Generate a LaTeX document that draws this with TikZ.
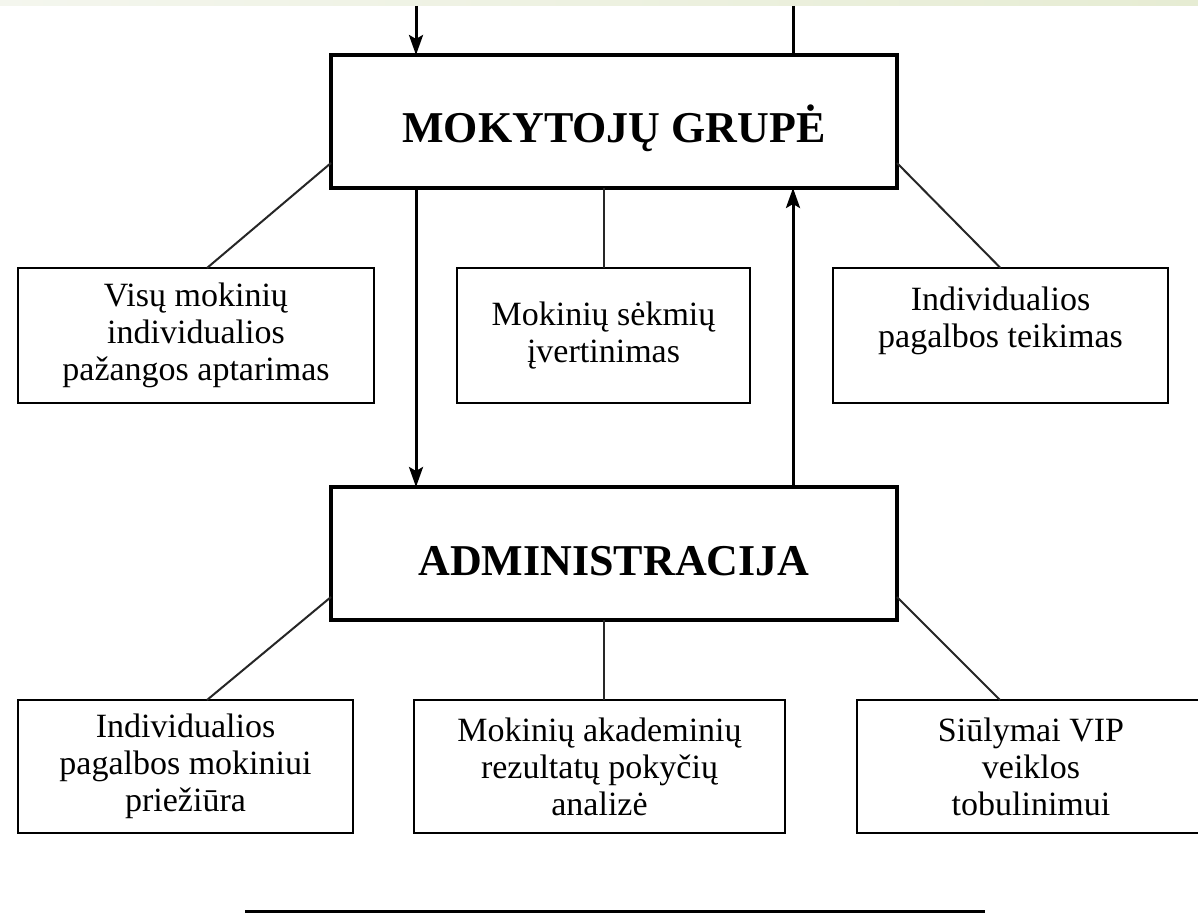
\documentclass[tikz,border=0pt]{standalone}
\usepackage{fontspec}
\setmainfont{Liberation Serif}
\usetikzlibrary{arrows.meta}
\definecolor{bandleft}{HTML}{F4F6EE}
\definecolor{bandright}{HTML}{E6ECD3}
\begin{document}
\begin{tikzpicture}[x=0.5pt,y=-0.5pt,
    bigbox/.style={draw,line width=2pt,minimum width=283pt,minimum height=66.5pt,
        inner sep=0pt,outer sep=0pt,text height=21.5pt,text depth=0pt,
        font=\fontsize{22}{24}\selectfont\bfseries},
    smallbox/.style={draw,line width=1.3pt,inner sep=0pt,outer sep=0pt,
        align=center,font=\fontsize{17}{18.5}\selectfont},
    arr/.style={line width=1.5pt,-{Stealth[length=10pt,width=7pt,inset=2pt]}},
    link/.style={line width=1pt,black!85}]
    \clip (0,0) rectangle (1198,914);
    \fill[white] (0,0) rectangle (1198,914);
    \shade[left color=bandleft,right color=bandright] (0,0) rectangle (1198,6);

    % main boxes
    \node[bigbox] (grupe) at (614,121.5) {MOKYTOJŲ GRUPĖ};
    \node[bigbox] (admin) at (614,553.5) {ADMINISTRACIJA};

    % upper row
    \node[smallbox,minimum width=178pt,minimum height=67.5pt] (aptar) at (196,335.5)
        {Visų mokinių\\individualios\\pažangos aptarimas};
    \node[smallbox,minimum width=146.5pt,minimum height=67.5pt] (sekm) at (603.5,335.5)
        {Mokinių sėkmių\\įvertinimas};
    \node[smallbox,minimum width=167.5pt,minimum height=67.5pt] (teik) at (1000.5,335.5)
        {Individualios\\pagalbos teikimas\\~};

    % lower row
    \node[smallbox,minimum width=167.5pt,minimum height=66.5pt] (prieziura) at (185.5,766.5)
        {Individualios\\pagalbos mokiniui\\priežiūra};
    \node[smallbox,minimum width=185.5pt,minimum height=66.5pt] (analize) at (599.5,766.5)
        {Mokinių akademinių\\rezultatų pokyčių\\analizė};
    \node[smallbox,minimum width=174pt,minimum height=66.5pt] (vip) at (1031,766.5)
        {Siūlymai VIP\\veiklos\\tobulinimui};

    % flows
    \coordinate (inflow) at (416,6);
    \coordinate (outflow) at (793,6);
    \draw[arr] (inflow) -- (inflow |- grupe.north);
    \draw[line width=1.5pt] (outflow) -- (outflow |- grupe.north);
    \draw[arr] (inflow |- grupe.south) -- (inflow |- admin.north);
    \draw[arr] (outflow |- admin.north) -- (outflow |- grupe.south);

    \draw[link] ([yshift=12.5pt]grupe.south west) -- ([xshift=5.5pt]aptar.north);
    \draw[link] (sekm.north) -- (sekm.north |- grupe.south);
    \draw[link] ([yshift=12.5pt]grupe.south east) -- (teik.north);

    \draw[link] ([yshift=11.5pt]admin.south west) -- ([xshift=10.75pt]prieziura.north);
    \draw[link] ([xshift=2.25pt]analize.north) -- ([xshift=2.25pt]analize.north |- admin.south);
    \draw[link] ([yshift=11.5pt]admin.south east) -- ([xshift=-15.5pt]vip.north);

    % rule at the bottom
    \coordinate (rulestart) at (245,911);
    \coordinate (ruleend) at (985,911);
    \draw[line width=1.5pt] (rulestart) -- (ruleend);
\end{tikzpicture}
\end{document}
